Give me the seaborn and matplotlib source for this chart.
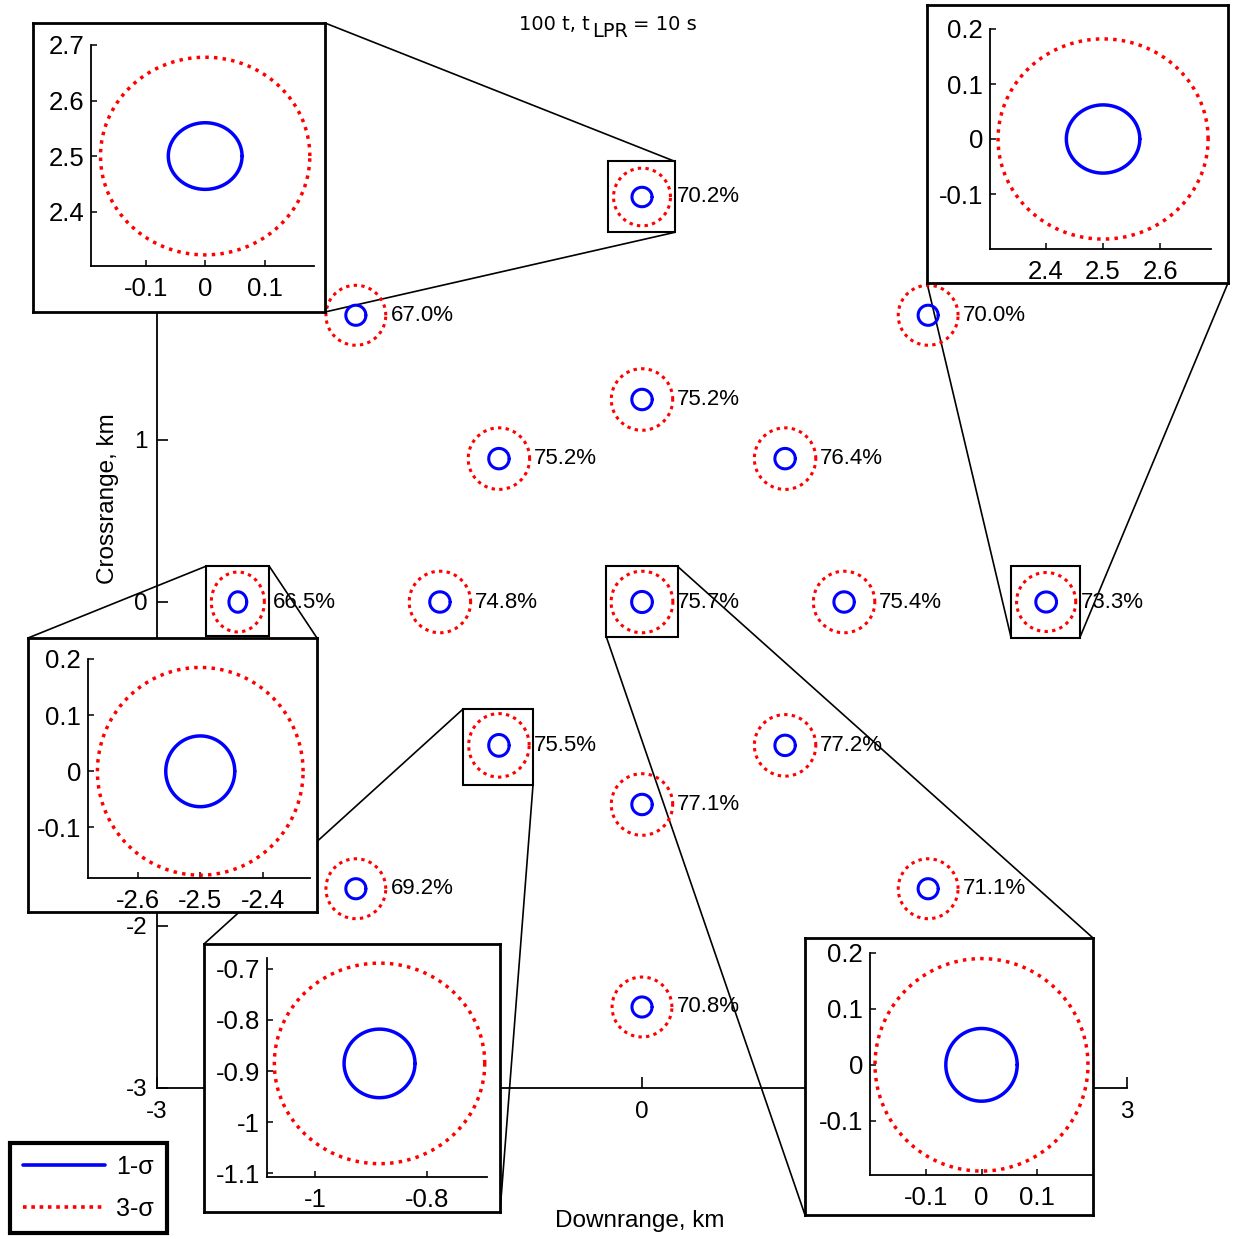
import numpy as np
import pandas as pd
import matplotlib
matplotlib.use("Agg")
import matplotlib.pyplot as plt
import seaborn as sns
from matplotlib.patches import Rectangle, ConnectionPatch
from matplotlib.lines import Line2D
from matplotlib.ticker import FuncFormatter, FixedLocator

# ---- aim points (km) and hit probabilities -------------------------------
downrange = [-1.77, 0.0, 1.77, 0.0, -0.885, 0.885, -2.5, -1.25, 0.0, 1.25,
             2.5, -0.885, 0.885, 0.0, -1.77, 1.77, 0.0]
crossrange = [1.77, 2.5, 1.77, 1.25, 0.885, 0.885, 0.0, 0.0, 0.0, 0.0,
              0.0, -0.885, -0.885, -1.25, -1.77, -1.77, -2.5]
probability = [67.0, 70.2, 70.0, 75.2, 75.2, 76.4, 66.5, 74.8, 75.7, 75.4,
               73.3, 75.5, 77.2, 77.1, 69.2, 71.1, 70.8]

# semi-axes of the dispersion ellipses (km)
sig1_x = [0.062, 0.062, 0.062, 0.063, 0.063, 0.063, 0.055, 0.063, 0.064, 0.063,
          0.064, 0.063, 0.063, 0.063, 0.062, 0.062, 0.062]
sig1_y = [0.062, 0.060, 0.062, 0.063, 0.063, 0.063, 0.063, 0.063, 0.065, 0.063,
          0.062, 0.067, 0.063, 0.063, 0.062, 0.062, 0.062]
sig3_x = [0.185, 0.176, 0.185, 0.19, 0.19, 0.19, 0.164, 0.19, 0.191, 0.19,
          0.183, 0.187, 0.19, 0.19, 0.185, 0.185, 0.185]
sig3_y = [0.185, 0.178, 0.185, 0.19, 0.19, 0.19, 0.185, 0.19, 0.190, 0.19,
          0.182, 0.196, 0.19, 0.19, 0.185, 0.185, 0.185]

levels = ["1-σ", "3-σ"]
level_colors = {"1-σ": "#0000ff", "3-σ": "#ff0000"}

# main-axis ticks
main_xticks = [-3, 0, 3]
main_yticks = [-3, -2, 0, 1]

# ---- contour table --------------------------------------------------------
theta = np.linspace(0.0, 2.0 * np.pi, 121)
parts = []
for i in range(len(downrange)):
    for lev, sx, sy in ((levels[0], sig1_x[i], sig1_y[i]),
                        (levels[1], sig3_x[i], sig3_y[i])):
        parts.append(pd.DataFrame({
            "x": downrange[i] + sx * np.cos(theta),
            "y": crossrange[i] + sy * np.sin(theta),
            "point": i,
            "level": lev,
        }))
contours = pd.concat(parts, ignore_index=True)

# ---- style ----------------------------------------------------------------
sns.set_theme(style="white")
plt.rcParams["font.family"] = ["Liberation Sans", "DejaVu Sans"]
plt.rcParams["axes.edgecolor"] = "black"
plt.rcParams["text.color"] = "black"
plt.rcParams["xtick.color"] = "black"
plt.rcParams["ytick.color"] = "black"

W, H = 1233, 1239
fig = plt.figure(figsize=(W / 100, H / 100), dpi=100)
fig.patch.set_facecolor("white")


def px_box(x0, y0, x1, y1):
    return [x0 / W, 1 - y1 / H, (x1 - x0) / W, (y1 - y0) / H]


fmt = FuncFormatter(lambda v, p: f"{v:g}")


def draw_contours(ax, lw, dots):
    sns.lineplot(data=contours, x="x", y="y", hue="level", style="level",
                 units="point", estimator=None, sort=False,
                 palette=level_colors, dashes={"1-σ": "", "3-σ": dots},
                 linewidth=lw, legend=False, ax=ax)
    ax.set_xlabel("")
    ax.set_ylabel("")


# ---- main axes ------------------------------------------------------------
ax = fig.add_axes(px_box(157, 35, 1127, 1088))
draw_contours(ax, 2.2, (1.1, 1.4))
ax.set_xlim(-3, 3)
ax.set_ylim(-3, 3.5)
ax.xaxis.set_major_locator(FixedLocator(main_xticks))
ax.yaxis.set_major_locator(FixedLocator(main_yticks))
ax.xaxis.set_major_formatter(fmt)
ax.yaxis.set_major_formatter(fmt)
for side in ("top", "right"):
    ax.spines[side].set_visible(False)
for side in ("left", "bottom"):
    ax.spines[side].set_linewidth(1.3)
ax.tick_params(direction="in", length=8, width=1.2, labelsize=17.5,
               bottom=True, left=True)
ax.tick_params(axis="x", pad=9)
ax.tick_params(axis="y", pad=7)

for x, y, p in zip(downrange, crossrange, probability):
    ax.text(x + 0.215, y, f"{p:.1f}%", fontsize=16, ha="left", va="center")

fig.text(640 / W, 1 - 1221 / H, "Downrange, km", fontsize=17.5,
         ha="center", va="center")
fig.text(108 / W, 1 - 499 / H, "Crossrange, km", fontsize=17.5,
         ha="center", va="center", rotation=90)

# title with a full-size lowered subscript
t1 = fig.text(519 / W, 1 - 25 / H, "100 t, t", fontsize=14,
              family="DejaVu Sans", ha="left", va="center")
t2 = ax.annotate("LPR", xy=(1, 0.5), xycoords=t1, xytext=(1.5, -5),
                 textcoords="offset points", fontsize=14,
                 family="DejaVu Sans", ha="left", va="center")
t3 = ax.annotate("= 10 s", xy=(1, 0.5), xycoords=t2, xytext=(3.5, 5),
                 textcoords="offset points", fontsize=14,
                 family="DejaVu Sans", ha="left", va="center")

# legend
handles = [Line2D([], [], color=level_colors["1-σ"], lw=2.6),
           Line2D([], [], color=level_colors["3-σ"], lw=2.6,
                  dashes=(1.0, 1.3))]
leg = ax.legend(handles, levels, loc="lower left",
                bbox_to_anchor=(10 / W, 1 - 1233 / H),
                bbox_transform=fig.transFigure, borderaxespad=0,
                frameon=True, fancybox=False, framealpha=1,
                edgecolor="black", fontsize=18, handlelength=3.3,
                handletextpad=0.45, labelspacing=0.7, borderpad=0.5)
leg.get_frame().set_linewidth(3)

# ---- zoomed views ---------------------------------------------------------
insets = [
    dict(idx=1, frame=(33, 23, 325, 312), axes=(91, 45, 314, 266),
         xlim=(-0.192, 0.183), ylim=(2.302, 2.7),
         xt=[-0.1, 0, 0.1], yt=[2.4, 2.5, 2.6, 2.7],
         links=[("tr", "tr"), ("br", "br")]),
    dict(idx=10, frame=(927, 5, 1228, 283), axes=(990, 29, 1211, 249),
         xlim=(2.303, 2.688), ylim=(-0.2, 0.2),
         xt=[2.4, 2.5, 2.6], yt=[-0.1, 0, 0.1, 0.2],
         links=[("bl", "bl"), ("br", "br")]),
    dict(idx=6, frame=(28, 638, 317, 912), axes=(88, 659, 310, 878),
         xlim=(-2.679, -2.325), ylim=(-0.19, 0.2),
         xt=[-2.6, -2.5, -2.4], yt=[-0.1, 0, 0.1, 0.2],
         links=[("tl", "tl"), ("tr", "tr")]),
    dict(idx=11, frame=(204, 944, 500, 1212), axes=(267, 958, 487, 1177),
         xlim=(-1.085, -0.694), ylim=(-1.107, -0.679),
         xt=[-1, -0.8], yt=[-1.1, -1, -0.9, -0.8, -0.7],
         links=[("tl", "tl"), ("br", "br")]),
    dict(idx=8, frame=(805, 938, 1093, 1215), axes=(870, 953, 1093, 1175),
         xlim=(-0.2, 0.2), ylim=(-0.197, 0.2),
         xt=[-0.1, 0, 0.1], yt=[-0.1, 0, 0.1, 0.2],
         links=[("tr", "tr"), ("bl", "bl")]),
]

pad = 0.02
for spec in insets:
    x0, x1 = spec["xlim"][0] - pad, spec["xlim"][1] + pad
    y0, y1 = spec["ylim"][0] - pad, spec["ylim"][1] + pad
    ax.add_patch(Rectangle((x0, y0), x1 - x0, y1 - y0, fill=False,
                           ec="black", lw=1.5, zorder=5))
    data_corner = {"tl": (x0, y1), "tr": (x1, y1), "bl": (x0, y0), "br": (x1, y0)}
    fx0, fy0, fx1, fy1 = spec["frame"]
    fig_corner = {"tl": (fx0 / W, 1 - fy0 / H), "tr": (fx1 / W, 1 - fy0 / H),
                  "bl": (fx0 / W, 1 - fy1 / H), "br": (fx1 / W, 1 - fy1 / H)}
    for a, b in spec["links"]:
        con = ConnectionPatch(xyA=data_corner[a], coordsA=ax.transData,
                              xyB=fig_corner[b], coordsB=fig.transFigure,
                              color="black", lw=1.2)
        ax.add_artist(con)
        con.set_clip_on(False)

    frame = fig.add_axes(px_box(*spec["frame"]))
    frame.set_facecolor("white")
    frame.set_xticks([])
    frame.set_yticks([])
    for s in frame.spines.values():
        s.set_linewidth(2)
        s.set_color("black")

    sub = fig.add_axes(px_box(*spec["axes"]))
    sub.patch.set_alpha(0)
    draw_contours(sub, 2.5, (1.0, 1.5))
    sub.set_xlim(*spec["xlim"])
    sub.set_ylim(*spec["ylim"])
    sub.xaxis.set_major_locator(FixedLocator(spec["xt"]))
    sub.yaxis.set_major_locator(FixedLocator(spec["yt"]))
    sub.xaxis.set_major_formatter(fmt)
    sub.yaxis.set_major_formatter(fmt)
    for side in ("top", "right"):
        sub.spines[side].set_visible(False)
    for side in ("left", "bottom"):
        sub.spines[side].set_linewidth(1.3)
    sub.tick_params(direction="in", length=4.5, width=1.1, labelsize=18.5,
                    bottom=True, left=True)
    sub.tick_params(axis="x", pad=8)
    sub.tick_params(axis="y", pad=5)

fig.savefig("out.png", dpi=100, facecolor="white")
